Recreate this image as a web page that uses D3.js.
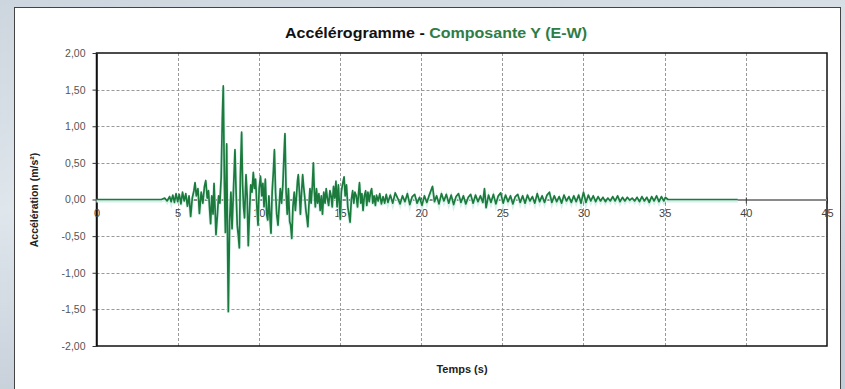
<!DOCTYPE html>
<html><head><meta charset="utf-8">
<script src="https://cdn.jsdelivr.net/npm/d3@7"></script>
<style>html,body{margin:0;padding:0;background:#fff;}svg{display:block;}</style>
</head><body>
<svg id="c" width="845" height="389"></svg>
<script>
const titleMain = "Accélérogramme - ";
const titleSub = "Composante Y (E-W)";
const xLabel = "Temps (s)";
const yLabel = "Accélération (m/s²)";
const xTicks = [0,5,10,15,20,25,30,35,40,45];
const yTicks = [-2,-1.5,-1,-0.5,0,0.5,1,1.5,2];

const times = [0,4.0,4.2,4.35,4.5,4.6,4.7,4.8,4.9,5.0,5.1,5.2,5.3,5.4,5.5,5.6,5.7,5.8,5.9,6.0,6.07,6.15,6.25,6.34,6.45,6.55,6.65,6.73,6.82,6.9,6.96,7.03,7.1,7.18,7.24,7.3,7.36,7.45,7.52,7.6,7.68,7.75,7.81,7.88,7.94,8.02,8.07,8.12,8.2,8.28,8.35,8.45,8.53,8.6,8.67,8.74,8.8,8.86,8.94,9.0,9.06,9.12,9.21,9.28,9.35,9.42,9.5,9.58,9.66,9.73,9.8,9.88,9.95,10.02,10.1,10.18,10.25,10.32,10.4,10.48,10.55,10.62,10.7,10.75,10.82,10.9,10.96,11.03,11.1,11.18,11.25,11.32,11.4,11.48,11.55,11.61,11.68,11.75,11.82,11.9,11.96,12.03,12.1,12.18,12.25,12.32,12.38,12.43,12.5,12.56,12.62,12.7,12.75,12.82,12.9,12.96,13.02,13.08,13.15,13.22,13.3,13.36,13.42,13.48,13.55,13.62,13.7,13.78,13.85,13.92,14.0,14.08,14.15,14.22,14.3,14.38,14.45,14.52,14.6,14.68,14.75,14.82,14.9,14.96,15.02,15.08,15.15,15.25,15.32,15.4,15.48,15.55,15.62,15.7,15.78,15.85,15.92,16.0,16.08,16.15,16.2,16.28,16.35,16.42,16.5,16.58,16.65,16.72,16.8,16.88,16.95,17.02,17.1,17.18,17.25,17.35,17.45,17.55,17.65,17.75,17.85,17.95,18.1,18.25,18.4,18.55,18.7,18.85,19.0,19.15,19.3,19.45,19.6,19.75,19.9,20.05,20.2,20.35,20.5,20.7,20.82,20.95,21.1,21.25,21.4,21.55,21.7,21.85,22.0,22.15,22.3,22.45,22.6,22.75,22.9,23.05,23.2,23.35,23.5,23.65,23.8,23.9,24.0,24.15,24.3,24.45,24.6,24.75,24.9,25.05,25.2,25.35,25.5,25.65,25.8,25.95,26.1,26.25,26.4,26.55,26.7,26.85,27.0,27.15,27.3,27.45,27.6,27.75,27.9,28.05,28.2,28.35,28.5,28.65,28.8,28.95,29.1,29.25,29.4,29.55,29.7,29.85,30.0,30.15,30.3,30.45,30.6,30.75,30.9,31.05,31.2,31.35,31.5,31.65,31.8,31.95,32.1,32.25,32.4,32.55,32.7,32.85,33.0,33.15,33.3,33.45,33.6,33.75,33.9,34.05,34.2,34.35,34.5,34.65,34.8,34.95,35.05,35.2,39.5];
const accel = [0,0,0.02,-0.02,0.04,-0.03,0.06,-0.04,0.08,-0.03,0.07,-0.06,0.10,-0.02,0.08,-0.09,0.05,-0.23,0.02,0.12,0.23,0.05,0.15,-0.19,0.10,-0.05,0.18,0.26,0.02,0.12,-0.10,-0.33,0.05,-0.2,0.22,-0.1,-0.48,-0.2,0.05,-0.05,0.3,1.1,1.55,0.2,-0.45,0.76,-0.5,-1.53,-0.3,0.1,-0.4,0.2,0.68,0.1,-0.35,-0.5,-0.66,0.3,0.92,0.2,-0.1,-0.25,0.34,0.05,-0.63,-0.2,0.2,0.1,0.37,0.15,0.28,-0.1,-0.35,0.15,0.32,0.05,0.22,-0.1,0.28,-0.2,-0.28,0.05,-0.3,-0.46,0.1,0.4,0.68,0.1,-0.2,-0.35,-0.1,0.15,-0.05,0.2,0.6,0.90,0.1,-0.2,0.15,-0.3,-0.35,-0.53,-0.1,0.1,-0.15,0.05,0.25,0.34,0.1,-0.2,0.05,0.34,0.2,0.05,-0.15,-0.25,-0.37,-0.1,0.15,-0.05,0.2,0.5,0.1,-0.1,0.15,-0.05,0.08,-0.15,0.05,-0.2,0.1,-0.05,0.15,0.02,-0.08,0.12,0.05,-0.1,0.18,0.02,0.25,-0.1,0.2,-0.05,-0.27,0.1,0.2,0.31,0.05,0.2,-0.1,-0.2,-0.31,0.0,0.12,-0.05,0.1,0.05,-0.1,0.1,0.23,-0.05,0.08,-0.15,0.05,0.12,-0.08,0.1,-0.03,0.1,0.15,-0.05,0.05,-0.08,0.06,-0.02,0.08,-0.06,0.04,-0.05,0.07,-0.04,0.06,-0.05,0.09,0.02,-0.06,0.05,-0.03,0.08,-0.07,0.04,0.07,-0.05,0.03,-0.08,0.05,-0.04,0.06,0.18,-0.03,0.05,-0.06,0.08,-0.02,0.07,-0.05,0.06,-0.07,0.04,0.08,-0.04,0.05,-0.06,0.03,0.07,-0.05,0.06,-0.03,0.05,-0.04,0.15,-0.11,0.06,-0.04,0.07,-0.06,0.05,0.09,-0.05,0.06,-0.03,0.05,-0.06,0.04,0.07,-0.04,0.05,-0.05,0.06,-0.02,0.04,-0.05,0.08,-0.03,0.05,-0.04,0.06,0.1,-0.04,0.05,-0.03,0.04,-0.05,0.06,-0.02,0.04,-0.04,0.05,-0.03,0.06,-0.05,0.1,-0.04,0.06,-0.02,0.05,-0.03,0.04,-0.02,0.03,-0.03,0.02,-0.02,0.04,-0.02,0.05,-0.03,0.03,-0.02,0.03,-0.01,0.02,-0.02,0.03,-0.03,0.04,-0.02,0.03,-0.04,0.04,-0.02,0.05,-0.03,0.04,-0.02,0.03,0,0];

const svg = d3.select("#c");
const defs = svg.append("defs");
const g1 = defs.append("linearGradient").attr("id","bg").attr("x1","0").attr("y1","0").attr("x2","0.3").attr("y2","1");
g1.append("stop").attr("offset","0").attr("stop-color","#cdd6de");
g1.append("stop").attr("offset","0.5").attr("stop-color","#dfe6ec");
g1.append("stop").attr("offset","1").attr("stop-color","#c4ced8");
svg.append("rect").attr("width",845).attr("height",389).attr("fill","url(#bg)");
svg.append("rect").attr("x",14.5).attr("y",7.5).attr("width",826).attr("height",390)
  .attr("fill","#fff").attr("stroke","#444").attr("stroke-width",1);

const L=96.5, R=827, T=53, B=346;
const x = d3.scaleLinear().domain([0,45]).range([L,R]);
const y = d3.scaleLinear().domain([-2,2]).range([B,T]);

// gridlines
const grid = svg.append("g").attr("stroke","#999").attr("stroke-dasharray","3,2").attr("stroke-width",1);
grid.selectAll("line.h").data(yTicks.filter(d=>d!==0 && d!==2 && d!==-2)).join("line")
  .attr("x1",L).attr("x2",R).attr("y1",d=>Math.round(y(d))+0.5).attr("y2",d=>Math.round(y(d))+0.5);
grid.selectAll("line.v").data(xTicks.filter(d=>d!==0 && d!==45)).join("line")
  .attr("y1",T).attr("y2",B).attr("x1",d=>Math.round(x(d))+0.5).attr("x2",d=>Math.round(x(d))+0.5);

// frame
svg.append("rect").attr("x",L).attr("y",T).attr("width",R-L).attr("height",B-T)
  .attr("fill","none").attr("stroke","#111").attr("stroke-width",1.5);

// y axis
const yAxis = d3.axisLeft(y).tickValues(yTicks).tickSize(4).tickSizeOuter(0)
  .tickFormat(d=>d3.format(".2f")(d).replace(".",",").replace("−","-"));
const ya = svg.append("g").attr("transform",`translate(${L},0)`).call(yAxis);
ya.select(".domain").attr("stroke","#111").attr("stroke-width",1.5);
ya.selectAll(".tick line").attr("stroke","#333");
ya.selectAll(".tick text").attr("fill","#555").attr("font-family","Liberation Sans, Arial, sans-serif")
  .attr("font-size",10.5).attr("x",-11);

// x axis at zero
const xAxis = d3.axisBottom(x).tickValues(xTicks).tickSize(4).tickSizeOuter(0).tickFormat(d3.format("d"));
const xa = svg.append("g").attr("transform",`translate(0,${y(0)})`).call(xAxis);
xa.select(".domain").attr("stroke","#8a8a8a").attr("stroke-width",2.2);
xa.selectAll(".tick line").attr("stroke","#333").attr("y1",-2);
xa.selectAll(".tick text").attr("fill","#444").attr("font-family","Liberation Sans, Arial, sans-serif")
  .attr("font-size",11).attr("y",10);

// data line
const pts = times.map((t,i)=>[t,accel[i]]);
const line = d3.line().x(d=>x(d[0])).y(d=>y(d[1]));
svg.append("path").datum(pts).attr("d",line).attr("fill","none")
  .attr("stroke","#d4f1ea").attr("stroke-width",3).attr("transform","translate(0,1.5)");
svg.append("path").datum(pts).attr("d",line).attr("fill","none")
  .attr("stroke","#1b7a3c").attr("stroke-width",1.7).attr("stroke-linejoin","round");

// title
const title = svg.append("text").attr("x",285).attr("y",38)
  .attr("font-family","Liberation Sans, Arial, sans-serif").attr("font-weight","bold").attr("font-size",14.5)
  .attr("textLength",302).attr("lengthAdjust","spacingAndGlyphs");
title.append("tspan").attr("fill","#111").text(titleMain);
title.append("tspan").attr("fill","#2e7d46").text(titleSub);

// axis labels
svg.append("text").attr("x",462).attr("y",373).attr("text-anchor","middle")
  .attr("font-family","Liberation Sans, Arial, sans-serif").attr("font-weight","bold").attr("font-size",11)
  .attr("fill","#222").text(xLabel);
svg.append("text").attr("transform","translate(38,200) rotate(-90)").attr("text-anchor","middle")
  .attr("font-family","Liberation Sans, Arial, sans-serif").attr("font-weight","bold").attr("font-size",10.5)
  .attr("fill","#222").text(yLabel);
</script>
</body></html>
